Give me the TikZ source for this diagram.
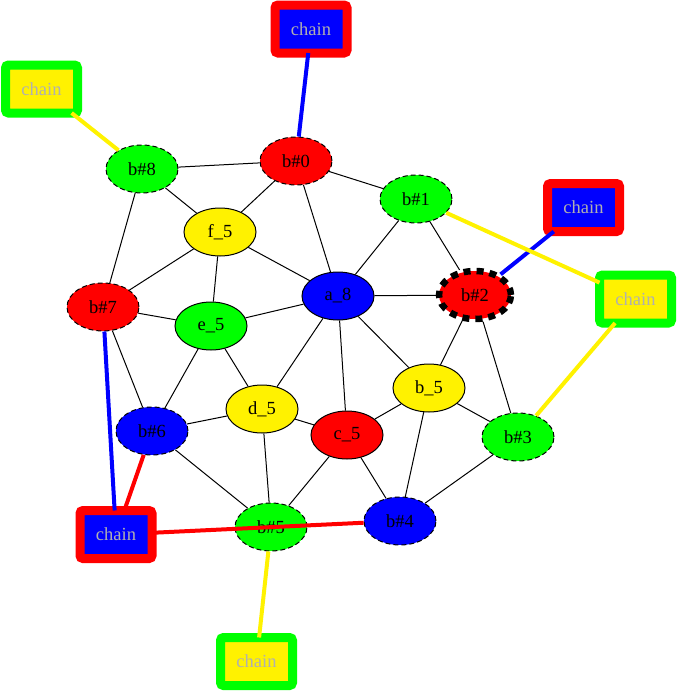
\documentclass[tikz,border=0pt]{standalone}
\usepackage{fontspec}
\setmainfont{Liberation Serif}
\usetikzlibrary{shapes.geometric}
\definecolor{chaingray}{RGB}{176,176,176}
\begin{document}
\begin{tikzpicture}[x=1pt,y=-1pt,
  every node/.style={font=\fontsize{18.5}{20}\selectfont},
  bn/.style={ellipse, draw=black, line width=1pt, minimum width=72pt, minimum height=48pt, inner sep=0pt},
  dn/.style={bn, dash pattern=on 5pt off 3pt},
  bigdash/.style={bn, line width=6.5pt, dash pattern=on 7pt off 6pt},
  chainbox/.style={rectangle, rounded corners=3pt, line width=9pt, minimum width=72pt, minimum height=48pt, inner sep=0pt, outer sep=0pt, text=chaingray},
  chainR/.style={chainbox, draw=red, fill=blue},
  chainG/.style={chainbox, draw=green, fill=yellow},
  edge/.style={line width=1pt, draw=black},
  cedge/.style={line width=4pt, draw=#1}
]
\useasboundingbox (0,0) rectangle (677,691);
% nodes
\node[dn, fill=red]    (b0) at (296,161) {b\#0};
\node[dn, fill=green]  (b1) at (416,199) {b\#1};
\node[bigdash, fill=red] (b2) at (475,295) {b\#2};
\node[dn, fill=green]  (b3) at (518,437) {b\#3};
\node[dn, fill=blue]   (b4) at (400,521) {b\#4};
\node[dn, fill=green]  (b5) at (271,527) {b\#5};
\node[dn, fill=blue]   (b6) at (152,431) {b\#6};
\node[dn, fill=red]    (b7) at (103,307) {b\#7};
\node[dn, fill=green]  (b8) at (142,169) {b\#8};
\node[bn, fill=yellow] (f5) at (220,232) {f\_5};
\node[bn, fill=blue]   (a8) at (338,296) {a\_8};
\node[bn, fill=green]  (e5) at (211,326) {e\_5};
\node[bn, fill=yellow] (d5) at (262,409) {d\_5};
\node[bn, fill=red]    (c5) at (347,435) {c\_5};
\node[bn, fill=yellow] (b5b) at (429,388) {b\_5};
% chain boxes
\node[chainR] (ch0) at (311,29) {chain};
\node[chainG] (ch8) at (41.5,89) {chain};
\node[chainR] (ch2) at (583.5,207.5) {chain};
\node[chainG] (ch13) at (635.5,299) {chain};
\node[chainR] (ch764) at (116,534.5) {chain};
\node[chainG] (ch5) at (256.5,661.5) {chain};
% black edges
\foreach \u/\v in {b0/b8, b0/f5, b0/a8, b0/b1, b8/f5, b8/b7, f5/b7, f5/e5, f5/a8,
  b1/a8, b1/b2, a8/b2, b7/e5, b7/b6, e5/a8, e5/b6, e5/d5, a8/d5, a8/c5, a8/b5b,
  b2/b5b, b2/b3, b5b/c5, b5b/b3, b5b/b4, d5/b6, d5/c5, d5/b5, b6/b5, c5/b5, c5/b4, b3/b4}
  \draw[edge] (\u) -- (\v);
% coloured edges
\draw[cedge=blue] (ch0) -- (b0);
\draw[cedge=yellow] (ch8) -- (b8);
\draw[cedge=blue] (ch2) -- (b2);
\draw[cedge=yellow] (ch13) -- (b1);
\draw[cedge=yellow] (ch13) -- (b3);
\draw[cedge=blue] (ch764) -- (b7);
\draw[cedge=red] (ch764) -- (b6);
\draw[cedge=red] (ch764) -- (b4);
\draw[cedge=yellow] (ch5) -- (b5);
\end{tikzpicture}
\end{document}
